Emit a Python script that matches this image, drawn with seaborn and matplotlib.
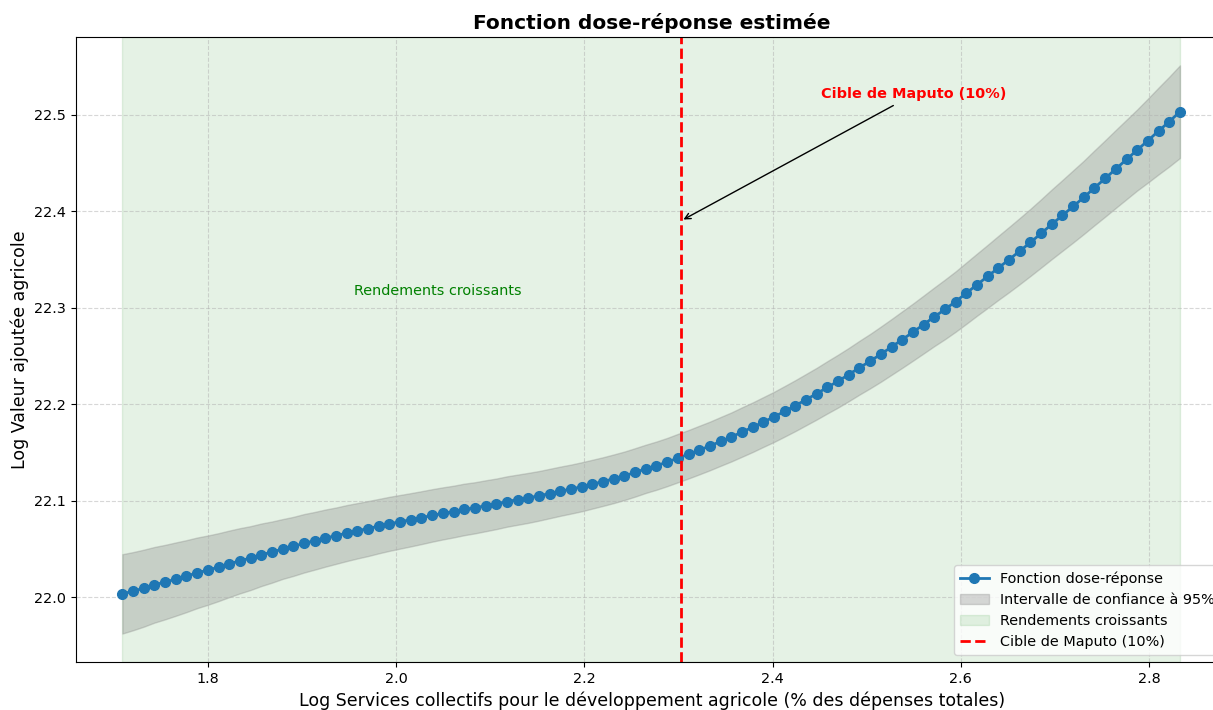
import numpy as np
import matplotlib
matplotlib.use("Agg")
import matplotlib.pyplot as plt
import seaborn as sns
from matplotlib.patches import Patch
from matplotlib.lines import Line2D

# ---- data ----
x_start, x_end, n_points = 1.7088, 2.8329, 100
log_dose = np.linspace(x_start, x_end, n_points)

response = [
    22.0034, 22.0062, 22.0093, 22.0128, 22.0156, 22.0187, 22.0218, 22.0252, 22.0280, 22.0311,
    22.0345, 22.0377, 22.0405, 22.0439, 22.0467, 22.0499, 22.0526, 22.0558, 22.0584, 22.0612,
    22.0637, 22.0664, 22.0688, 22.0711, 22.0736, 22.0760, 22.0781, 22.0802, 22.0824, 22.0847,
    22.0868, 22.0887, 22.0909, 22.0926, 22.0947, 22.0967, 22.0991, 22.1010, 22.1029, 22.1050,
    22.1074, 22.1098, 22.1120, 22.1144, 22.1171, 22.1198, 22.1227, 22.1258, 22.1293, 22.1330,
    22.1363, 22.1400, 22.1441, 22.1481, 22.1524, 22.1567, 22.1614, 22.1660, 22.1711, 22.1761,
    22.1815, 22.1868, 22.1926, 22.1985, 22.2047, 22.2109, 22.2175, 22.2239, 22.2307, 22.2378,
    22.2446, 22.2518, 22.2593, 22.2669, 22.2746, 22.2825, 22.2905, 22.2982, 22.3063, 22.3150,
    22.3238, 22.3324, 22.3412, 22.3498, 22.3586, 22.3676, 22.3769, 22.3864, 22.3956, 22.4049,
    22.4143, 22.4242, 22.4339, 22.4438, 22.4536, 22.4634, 22.4731, 22.4831, 22.4928, 22.5031,
]

ci_half_width = [
    0.0411, 0.0405, 0.0399, 0.0392, 0.0386, 0.0380, 0.0373, 0.0366, 0.0359, 0.0352,
    0.0345, 0.0338, 0.0331, 0.0324, 0.0317, 0.0310, 0.0306, 0.0303, 0.0299, 0.0296,
    0.0292, 0.0290, 0.0287, 0.0285, 0.0282, 0.0280, 0.0278, 0.0276, 0.0274, 0.0272,
    0.0270, 0.0268, 0.0267, 0.0265, 0.0264, 0.0262, 0.0261, 0.0260, 0.0259, 0.0257,
    0.0256, 0.0255, 0.0254, 0.0254, 0.0253, 0.0252, 0.0252, 0.0251, 0.0251, 0.0250,
    0.0250, 0.0250, 0.0251, 0.0251, 0.0252, 0.0252, 0.0253, 0.0254, 0.0256, 0.0257,
    0.0258, 0.0260, 0.0262, 0.0264, 0.0266, 0.0268, 0.0271, 0.0274, 0.0276, 0.0279,
    0.0282, 0.0286, 0.0289, 0.0293, 0.0296, 0.0300, 0.0304, 0.0309, 0.0313, 0.0318,
    0.0322, 0.0327, 0.0332, 0.0338, 0.0343, 0.0348, 0.0354, 0.0361, 0.0367, 0.0374,
    0.0380, 0.0388, 0.0396, 0.0404, 0.0412, 0.0420, 0.0435, 0.0450, 0.0465, 0.0480,
]

maputo_target = np.log(10)
arrow_tip_y = 22.39
xticks = [1.8, 2.0, 2.2, 2.4, 2.6, 2.8]
yticks = [22.0, 22.1, 22.2, 22.3, 22.4, 22.5]

title = "Fonction dose-réponse estimée"
xlabel = "Log Services collectifs pour le développement agricole (% des dépenses totales)"
ylabel = "Log Valeur ajoutée agricole"
lbl_line = "Fonction dose-réponse"
lbl_ci = "Intervalle de confiance à 95%"
lbl_zone = "Rendements croissants"
lbl_target = "Cible de Maputo (10%)"

# ---- figure ----
W, H = 1213, 710
fig = plt.figure(figsize=(W / 100, H / 100), dpi=100)
ax_left, ax_right, ax_top, ax_bottom = 76, 1228, 37, 662.3
ax = fig.add_axes([ax_left / W, (H - ax_bottom) / H,
                   (ax_right - ax_left) / W, (ax_bottom - ax_top) / H])

resp = np.array(response)
hw = np.array(ci_half_width)
lower = resp - hw
upper = resp + hw

fs = 10.4
ax.axvspan(log_dose[0], log_dose[-1], color="green", alpha=0.1, zorder=0)
ax.fill_between(log_dose, lower, upper, color="gray", alpha=0.3)
sns.lineplot(x=log_dose, y=resp, ax=ax, color="#1f77b4", linewidth=2,
             marker="o", markersize=7, markeredgecolor="#1f77b4",
             markeredgewidth=1, legend=False)
ax.axvline(maputo_target, color="red", linestyle="--", linewidth=2)

ax.text(2.044, 22.317, lbl_zone, color="green", fontsize=fs,
        ha="center", va="center")
ax.annotate(lbl_target, xy=(maputo_target, arrow_tip_y), xytext=(2.55, 22.521),
            color="red", fontweight="bold", fontsize=fs, ha="center", va="center",
            arrowprops=dict(arrowstyle="->", color="black", lw=1))

ax.set_xlim(1.6595, 2.884)
ax.set_ylim(21.9325, 22.5805)
ax.set_xticks(xticks)
ax.set_yticks(yticks)
ax.tick_params(labelsize=fs)
ax.grid(True, linestyle="--", alpha=0.5)

ax.set_title(title, fontsize=14.5, fontweight="bold")
ax.set_xlabel(xlabel, fontsize=12.5)
ax.set_ylabel(ylabel, fontsize=12.5)

handles = [
    Line2D([], [], color="#1f77b4", linewidth=2, marker="o", markersize=7),
    Patch(facecolor="gray", alpha=0.3, edgecolor="gray"),
    Patch(facecolor="green", alpha=0.1, edgecolor="green"),
    Line2D([], [], color="red", linestyle="--", linewidth=2),
]
ax.legend(handles, [lbl_line, lbl_ci, lbl_zone, lbl_target],
          loc="lower right", fontsize=fs)

fig.savefig("out.png", dpi=100)
